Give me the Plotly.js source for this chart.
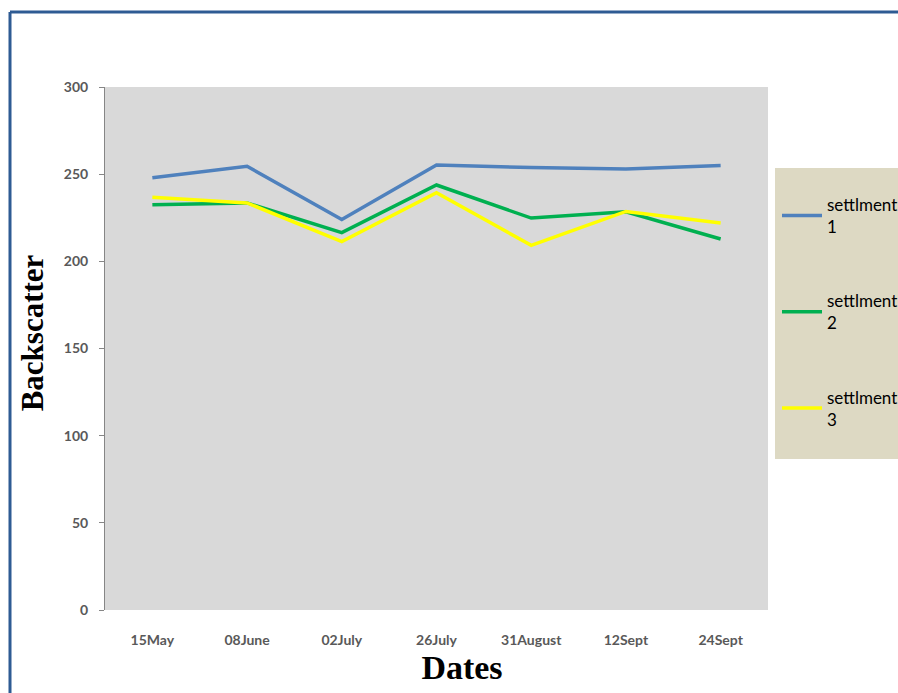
<!DOCTYPE html>
<html>
<head>
<meta charset="utf-8">
<script src="https://cdn.plot.ly/plotly-3.0.1.min.js"></script>
<style>html,body{margin:0;padding:0;background:#fff;}#chart{width:898px;height:693px;}</style>
</head>
<body>
<div id="chart"></div>
<script>
const dates = ["15May", "08June", "02July", "26July", "31August", "12Sept", "24Sept"];
const settlement1 = [248, 254.5, 224, 255.3, 253.8, 253, 255];
const settlement2 = [232.5, 233.5, 216.5, 243.8, 224.8, 228.4, 212.8];
const settlement3 = [236.8, 233.5, 211.3, 239.4, 209.2, 228.6, 222];
const seriesNames = ["settlment<br>1", "settlment<br>2", "settlment<br>3"];
const seriesColors = ["#4f81bd", "#00b050", "#ffff00"];
const yTicks = [0, 50, 100, 150, 200, 250, 300];

const allSeries = [settlement1, settlement2, settlement3];
const traces = allSeries.map((vals, i) => ({
  x: dates, y: vals, type: "scatter", mode: "lines",
  name: seriesNames[i], legendgroup: "g" + i,
  line: {color: seriesColors[i], width: 3.5}
}));

const tickFont = {family: "Lato, 'Open Sans', sans-serif", size: 14, color: "#595959", weight: "bold"};
const W = 898, H = 693, L = 105, T = 87, B = 83;
const plotRight = 768;
const pw = W - L;            // paper width (r = 0)
const ph = H - T - B;        // plot height
const px = v => (v - L) / pw;
const py = v => (H - B - v) / ph;

const layout = {
  width: W, height: H,
  margin: {l: L, r: 0, t: T, b: B, autoexpand: false},
  paper_bgcolor: "#ffffff",
  plot_bgcolor: "#d9d9d9",
  showlegend: true,
  legend: {
    x: px(777), xanchor: "left", y: py(187), yanchor: "top",
    bgcolor: "rgba(0,0,0,0)", borderwidth: 0,
    font: {family: "Lato, 'Open Sans', sans-serif", size: 17, color: "#000"},
    tracegroupgap: 49, itemwidth: 40
  },
  xaxis: {
    type: "category", range: [-0.5, 6.5], domain: [0, px(plotRight)],
    showgrid: false, showline: false, zeroline: false, ticks: "",
    tickfont: tickFont, ticklabelstandoff: 20,
    title: {text: "&nbsp;&nbsp;&nbsp;&nbsp;&nbsp;&nbsp;Dates", font: {family: "'Liberation Serif', 'Times New Roman', serif", size: 34, color: "#000", weight: "bold"}, standoff: 8},
    fixedrange: true
  },
  yaxis: {
    range: [0, 300], tickvals: yTicks, showgrid: false, zeroline: false,
    showline: true, linecolor: "#868686", linewidth: 1,
    ticks: "outside", ticklen: 5, tickcolor: "#868686",
    tickfont: tickFont, ticklabelstandoff: 8,
    title: {text: "&nbsp;&nbsp;&nbsp;&nbsp;Backscatter", font: {family: "'Liberation Serif', 'Times New Roman', serif", size: 31, color: "#000", weight: "bold"}, standoff: 10},
    fixedrange: true
  },
  shapes: [
    {type: "rect", xref: "paper", yref: "paper", x0: px(775), x1: px(900), y0: py(168), y1: py(459), fillcolor: "#ddd9c3", line: {width: 0}, layer: "below"},
    {type: "line", xref: "paper", yref: "paper", x0: px(10), x1: px(10), y0: py(12), y1: py(700), line: {color: "#2e5b93", width: 3}},
    {type: "line", xref: "paper", yref: "paper", x0: px(10), x1: px(905), y0: py(12), y1: py(12), line: {color: "#2e5b93", width: 3}}
  ]
};

Plotly.newPlot("chart", traces, layout, {displayModeBar: false, staticPlot: true});
</script>
</body>
</html>
